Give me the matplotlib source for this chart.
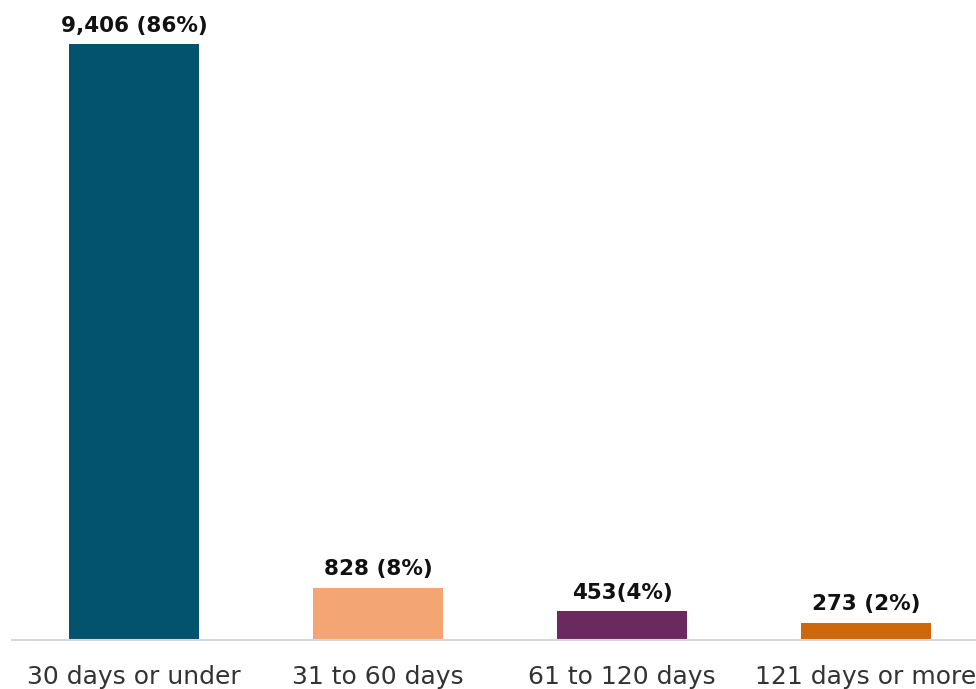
import matplotlib.pyplot as plt

categories = ['30 days or under', '31 to 60 days', '61 to 120 days', '121 days or more']
counts = [9406, 828, 453, 273]
labels = ['9,406 (86%)', '828 (8%)', '453(4%)', '273 (2%)']
colors = ['#03536f', '#f3a673', '#6b2a5f', '#d0670a']

fig = plt.figure(figsize=(9.76, 6.89), dpi=100)
ax = fig.add_axes([12 / 976, 49 / 689, 976 / 976, 633.6 / 689])

x = range(len(categories))
bars = ax.bar(x, counts, width=0.53, color=colors)

for b, lab in zip(bars, labels):
    ax.annotate(lab, (b.get_x() + b.get_width() / 2, b.get_height()),
                xytext=(0, 6), textcoords='offset points',
                ha='center', va='bottom', fontsize=15.5, fontweight='bold',
                family='DejaVu Sans', color='#111111')

ax.set_xlim(-0.5, 3.5)
ax.set_ylim(0, 10000)
ax.set_xticks(list(x))
ax.set_xticklabels(categories, fontsize=18, color='#333333', family='DejaVu Sans')
ax.tick_params(axis='x', length=0, pad=18)
ax.set_yticks([])
for s in ['top', 'right', 'left']:
    ax.spines[s].set_visible(False)
ax.spines['bottom'].set_color('#d5d8e4')
ax.spines['bottom'].set_linewidth(1.5)

fig.savefig('out.png', dpi=100)
